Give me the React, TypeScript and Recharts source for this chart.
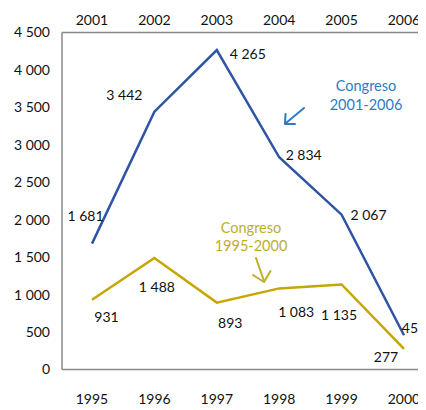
import { LineChart, Line, XAxis, YAxis, LabelList } from "recharts";

// years on the two x axes
const yearsOld = ["1995", "1996", "1997", "1998", "1999", "2000"];
const yearsNew = ["2001", "2002", "2003", "2004", "2005", "2006"];

// series values
const congreso9500 = [931, 1488, 893, 1083, 1135, 277];
const congreso0106 = [1681, 3442, 4265, 2834, 2067, 458];

const yTicks = [0, 500, 1000, 1500, 2000, 2500, 3000, 3500, 4000, 4500];

const data = yearsOld.map((y, i) => ({
  old: y,
  nuevo: yearsNew[i],
  c9500: congreso9500[i],
  c0106: congreso0106[i],
}));

// label offsets from each point (label centre)
const blueOffsets = [
  [-6.5, -28],
  [-30, -17.5],
  [31, 3],
  [24.5, -2.5],
  [27, 0],
  [10, -8],
];
const yellowOffsets = [
  [14.5, 17],
  [2.5, 28],
  [13.5, 20],
  [17, 23.5],
  [-2.5, 29.5],
  [-18, 8],
];

const FONT = "Lato, 'Open Sans', sans-serif";
const BLUE = "#2F54A4";
const YELLOW = "#C6A600";

const fmt = (v: number) =>
  v >= 1000 ? `${Math.floor(v / 1000)} ${String(v % 1000).padStart(3, "0")}` : String(v);

const makeLabel = (offsets: number[][]) => (props: any) => {
  const { x, y, value, index } = props;
  const [dx, dy] = offsets[index] || [0, 0];
  return (
    <text
      x={Number(x) + dx}
      y={Number(y) + dy}
      textAnchor="middle"
      dominantBaseline="central"
      fontSize={14}
      fontFamily={FONT}
      fill="#111"
    >
      {fmt(Number(value))}
    </text>
  );
};

const tickStyle = { fontSize: 14, fontFamily: FONT, fill: "#111" };

export default function App() {
  return (
    <div style={{ position: "relative", width: 418, height: 400 }}>
      <style>{"html,body{overflow:hidden}"}</style>
      <LineChart
        width={418}
        height={400}
        data={data}
        margin={{ top: 4.5, right: 0, left: 0, bottom: 0 }}
        style={{ overflow: "visible" }}
      >
        <XAxis
          xAxisId="top"
          dataKey="nuevo"
          orientation="top"
          height={20}
          padding={{ left: 30, right: 22 }}
          tickLine={false}
          tickSize={0}
          tickMargin={7.5}
          axisLine={{ stroke: "#888", strokeWidth: 1.5 }}
          tick={tickStyle}
          interval={0}
        />
        <XAxis
          xAxisId="bottom"
          dataKey="old"
          orientation="bottom"
          height={38.5}
          padding={{ left: 30, right: 22 }}
          tickLine={false}
          tickSize={0}
          tickMargin={25}
          axisLine={{ stroke: "#888", strokeWidth: 1.5 }}
          tick={tickStyle}
          interval={0}
        />
        <YAxis
          domain={[0, 4500]}
          ticks={yTicks}
          width={54}
          tickLine={false}
          tickSize={0}
          tickMargin={12}
          axisLine={{ stroke: "#888", strokeWidth: 1.5 }}
          tick={tickStyle}
          tickFormatter={fmt}
          interval={0}
        />
        <Line
          xAxisId="top"
          dataKey="c0106"
          stroke={BLUE}
          strokeWidth={2.5}
          dot={false}
          isAnimationActive={false}
        >
          <LabelList dataKey="c0106" content={makeLabel(blueOffsets)} />
        </Line>
        <Line
          xAxisId="bottom"
          dataKey="c9500"
          stroke={YELLOW}
          strokeWidth={2.5}
          dot={false}
          isAnimationActive={false}
        >
          <LabelList dataKey="c9500" content={makeLabel(yellowOffsets)} />
        </Line>
      </LineChart>
      <svg
        width={426}
        height={410}
        style={{ position: "absolute", left: -8, top: -8, pointerEvents: "none" }}
      >
        <g fontFamily={FONT} fontSize={14.5} textAnchor="middle">
          <text x={366} y={85} dominantBaseline="central" fill="#2E7BC4">Congreso</text>
          <text x={366} y={104} dominantBaseline="central" fill="#2E7BC4">2001-2006</text>
          <text x={251} y={227} dominantBaseline="central" fill="#BDAE2C">Congreso</text>
          <text x={251} y={245} dominantBaseline="central" fill="#BDAE2C">1995-2000</text>
        </g>
        <g fill="none" strokeWidth={2} strokeLinecap="round" strokeLinejoin="round">
          <line x1={304} y1={108} x2={286} y2={123} stroke="#2E7BC4" />
          <polyline points="285.5,114 285,124 295,124" stroke="#2E7BC4" />
          <line x1={256} y1={258} x2={264} y2={281} stroke="#BDAE2C" />
          <polyline points="253,275 264,282 270.5,271" stroke="#BDAE2C" />
        </g>
      </svg>
    </div>
  );
}
